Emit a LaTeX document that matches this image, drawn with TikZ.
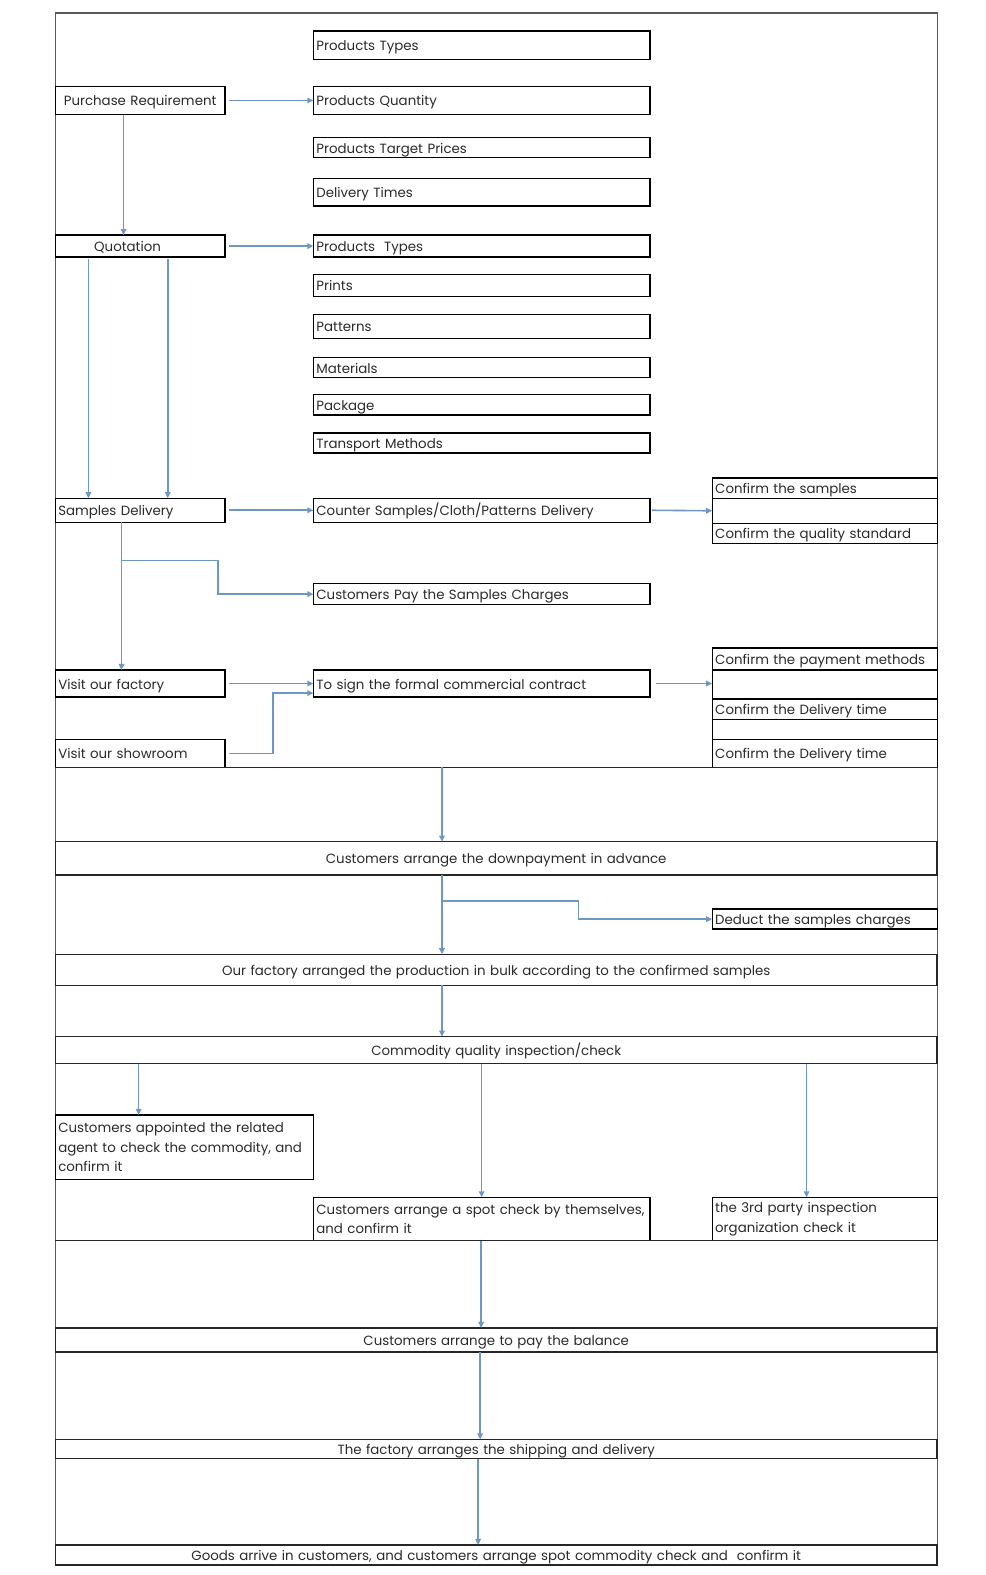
\documentclass[tikz,border=0pt]{standalone}
\usepackage{fontspec}
\setmainfont{Poppins}
\usetikzlibrary{arrows.meta,calc}
\definecolor{arrowblue}{HTML}{6F97C4}
\definecolor{txt}{HTML}{2A2A2A}
\newcommand\myfont{\fontsize{13.3}{19.5}\selectfont}
\newcommand\mkbox[7]{%
  \pgfmathsetmacro\mybw{#4-#2}\pgfmathsetmacro\mybh{#5-#3}\pgfmathsetmacro\mytw{#4-#2-6}%
  \node[#6, minimum width=\mybw pt, minimum height=\mybh pt, text width=\mytw pt] (#1) at ({(#2+#4)/2},{(#3+#5)/2}) {#7};}
\begin{document}
\begin{tikzpicture}[x=1pt,y={(0pt,-1pt)},
  basebox/.style={draw=black, line width=1.3pt, inner xsep=3pt, inner ysep=0pt, outer sep=0pt, align=left, font=\myfont, text=txt},
  box/.style={basebox, text height=11pt, text depth=0pt},
  mbox/.style={basebox},
  cbox/.style={box, align=center},
  band/.style={draw=black!85, line width=1.4pt, inner xsep=3pt, inner ysep=0pt, outer sep=0pt, align=center, font=\myfont, text=txt, text height=11pt, text depth=0pt},
  arr/.style={draw=arrowblue, line width=1.6pt, -{Triangle[length=6pt,width=5.5pt]}},
  hl/.style={draw=black!85, line width=1.4pt},
  frame/.style={draw=black!65, line width=1.2pt}]
\useasboundingbox (0,0) rectangle (981,1568);
\fill[white] (0,0) rectangle (981,1568);
\draw[frame] (55,13) rectangle (933,1558);

% left column
\mkbox{pr}{55}{86}{224}{114}{cbox}{Purchase Requirement}
\mkbox{quo}{55}{234}{224}{256}{cbox}{Quotation\hspace*{25pt}}
\mkbox{sd}{55}{496}{224}{520}{box}{Samples Delivery}
\mkbox{vf}{55}{667}{224}{694}{box}{Visit our factory}
\mkbox{vs}{55}{736}{224}{764}{box}{Visit our showroom}

% middle column
\mkbox{pta}{312}{31}{647}{59}{box}{Products Types}
\mkbox{pq}{312}{86}{647}{114}{box}{Products Quantity}
\mkbox{ptp}{312}{137}{647}{157}{box}{Products Target Prices}
\mkbox{dt}{312}{178}{647}{205}{box}{Delivery Times}
\mkbox{ptb}{312}{234}{647}{256}{box}{Products~ Types}
\mkbox{pri}{312}{273}{647}{295}{box}{Prints}
\mkbox{pat}{312}{313}{647}{337}{box}{Patterns}
\mkbox{mat}{312}{356}{647}{376}{box}{Materials}
\mkbox{pk}{312}{393}{647}{413}{box}{Package}
\mkbox{tm}{312}{431}{647}{451}{box}{Transport Methods}
\mkbox{cs}{312}{496}{647}{520}{box}{Counter Samples/Cloth/Patterns Delivery}
\mkbox{cp}{312}{581}{647}{602}{box}{Customers Pay the Samples Charges}
\mkbox{ct}{312}{667}{647}{694}{box}{To sign the formal commercial contract}

% right column
\mkbox{rsa}{709}{476}{933}{496}{box}{Confirm the samples}
\mkbox{rsb}{709}{496}{933}{521}{box}{}
\mkbox{rsc}{709}{521}{933}{541}{box}{Confirm the quality standard}
\mkbox{rpa}{709}{645}{933}{667}{box}{Confirm the payment methods}
\mkbox{rpb}{709}{667}{933}{696}{box}{}
\mkbox{rpc}{709}{696}{933}{716}{box}{Confirm the Delivery time}
\mkbox{rpd}{709}{716}{933}{736}{box}{}
\mkbox{rpe}{709}{736}{933}{764}{box}{Confirm the Delivery time}

\draw[hl] (55,764) -- (933,764);
\coordinate (r1) at (440,764);

% bands
\mkbox{dp}{55}{838}{933}{871}{band}{Customers arrange the downpayment in advance}
\mkbox{dd}{709}{905}{933}{925}{box}{Deduct the samples charges}
\mkbox{pb}{55}{950}{933}{981}{band}{Our factory arranged the production in bulk according to the confirmed samples}
\mkbox{ins}{55}{1032}{933}{1059}{band}{Commodity quality inspection/check}
\mkbox{ca}{55}{1110}{312}{1174}{mbox}{\mbox{Customers appointed the related}\\\mbox{agent to check the commodity, and}\\\mbox{confirm it}}
\mkbox{sc}{312}{1192}{647}{1235}{mbox}{\mbox{Customers arrange a spot check by themselves,}\\\mbox{and confirm it}}
\mkbox{tp}{709}{1192}{933}{1235}{mbox}{\mbox{the 3rd party inspection}\\\mbox{organization check it}}
\draw[hl] (55,1235) -- (933,1235);
\mkbox{bal}{55}{1322}{933}{1346}{band}{Customers arrange to pay the balance}
\mkbox{sh}{55}{1433}{933}{1452}{band}{The factory arranges the shipping and delivery}
\mkbox{gd}{55}{1538}{933}{1558}{band}{Goods arrive in customers, and customers arrange spot commodity check and~ confirm it}

% connectors
\draw[arr] ([xshift=4pt]pr.east) -- (pq.west);
\draw[arr] ([xshift=-16.5pt]pr.south) -- ([xshift=-16.5pt]pr.south |- quo.north);
\draw[arr] ([xshift=4pt]quo.east) -- (ptb.west);
\draw[arr] ([xshift=-51.5pt,yshift=-2pt]quo.south) -- ([xshift=-51.5pt]quo.south |- sd.north);
\draw[arr] ([xshift=27.5pt,yshift=-2pt]quo.south) -- ([xshift=27.5pt]quo.south |- sd.north);
\draw[arr] ([xshift=4pt]sd.east) -- (cs.west);
\draw[arr] ([xshift=2pt]cs.east) -- (rsb.west);
\draw[arr] ([xshift=-18.5pt]sd.south) -- ([xshift=-18.5pt]sd.south |- vf.north);
\draw[arr] ([xshift=-18.5pt,yshift=-38pt]sd.south) -- ++(96,0) |- (cp.west);
\draw[arr] ([xshift=4pt]vf.east) -- (ct.west);
\draw[arr] ([xshift=4pt]vs.east) -- ++(44,0) |- ([yshift=-9.5pt]ct.west);
\draw[arr] ([xshift=6pt]ct.east) -- (rpb.west |- ct.east);
\draw[arr] (r1) -- (r1 |- dp.north);
\draw[arr] (r1 |- dp.south) -- (r1 |- pb.north);
\draw[arr] ([yshift=-26pt]r1 |- dp.south) -- ++(136,0) |- (dd.west);
\draw[arr] (r1 |- pb.south) -- (r1 |- ins.north);
\draw[arr] ([xshift=-45.5pt]ca.north |- ins.south) -- ([xshift=-45.5pt]ca.north);
\draw[arr] (sc.north |- ins.south) -- (sc.north);
\draw[arr] ([xshift=-18pt]tp.north |- ins.south) -- ([xshift=-18pt]tp.north);
\draw[arr] ([xshift=-15pt]bal.north |- sc.south) -- ([xshift=-15pt]bal.north);
\draw[arr] ([xshift=-16pt]bal.south) -- ([xshift=-16pt]sh.north);
\draw[arr] ([xshift=-18pt]sh.south) -- ([xshift=-18pt]gd.north);
\end{tikzpicture}
\end{document}
